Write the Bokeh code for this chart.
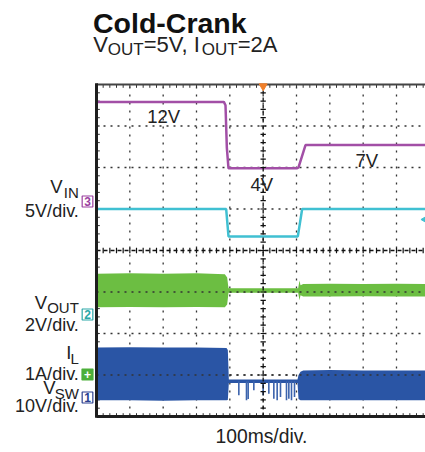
import numpy as np
from bokeh.plotting import figure
from bokeh.models import Range1d, Label
from bokeh.core.properties import value
from bokeh.embed import file_html
from bokeh.resources import INLINE

# ---------------- data (time in ms, 100 ms/div; traces in screen divisions) ----------------
vin_t = [0, 382, 387, 391, 396, 602, 606, 627, 987]
vin_v = [12.0, 12.0, 11.6, 6.5, 4.0, 4.0, 4.1, 6.8, 6.8]          # volts, 5 V/div

ch4_t = [0, 389, 396, 604, 617, 987]
ch4_div = [1.0, 1.0, 0.34, 0.34, 1.0, 1.0]

vout_t = [0, 100, 200, 300, 385, 392, 396, 500, 605, 609, 612, 620, 700, 800, 900, 987]
vout_hi = [-0.56, -0.55, -0.56, -0.55, -0.57, -0.65, -0.91, -0.91, -0.91, -0.72, -0.84, -0.81, -0.80, -0.81, -0.80, -0.81]
vout_lo = [-1.37, -1.36, -1.37, -1.36, -1.37, -1.30, -1.02, -1.02, -1.02, -1.20, -1.08, -1.11, -1.11, -1.10, -1.11, -1.11]

sw_t = [0, 100, 200, 300, 390, 394, 397, 600, 603, 606, 612, 620, 700, 800, 900, 987]
sw_hi = [-2.34, -2.33, -2.34, -2.34, -2.35, -2.40, -3.11, -3.11, -3.11, -3.00, -2.92, -2.89, -2.88, -2.89, -2.89, -2.89]
sw_lo = [-3.61, -3.61, -3.62, -3.61, -3.61, -3.60, -3.19, -3.19, -3.19, -3.58, -3.61, -3.61, -3.61, -3.61, -3.61, -3.61]

spike_t = [427, 450, 455, 472, 500, 517, 532, 542, 552, 570, 577, 585, 594]
spike_lo = [-3.49, -3.61, -3.58, -3.37, -3.49, -3.45, -3.57, -3.61, -3.53, -3.61, -3.57, -3.61, -3.53]

notes = ["12V", "4V", "7V"]

# ---------------- layout helpers (canvas pixel -> data coords) ----------------
def tx(px):
    return (px - 96) * 3.0

def ty(py):
    return (250 - py) / 41.5

BASE_FIX = 0.33   # baseline correction (em) for rendered text
VIN_OFF = ty(201)
FONT = "Liberation Sans"
INK = "#222222"

W, H = 425, 452
p = figure(width=W, height=H, x_range=Range1d(tx(0), tx(W)), y_range=Range1d(ty(H), ty(0)),
           x_axis_type=None, y_axis_type=None, output_backend="svg", toolbar_location=None,
           min_border=0)
p.outline_line_color = None
p.grid.visible = False
p.background_fill_color = "white"
p.border_fill_color = "white"

T0, T1 = 0, tx(W) + 30
# ---- graticule ----
gx = list(range(100, 1000, 100))
gy = [-3, -2, -1, 1, 2, 3]
p.segment(x0=gx, y0=[-4] * len(gx), x1=gx, y1=[4] * len(gx), line_color="#333333",
          line_width=1.3, line_dash="2 6")
p.segment(x0=[T0] * len(gy), y0=gy, x1=[T1] * len(gy), y1=gy, line_color="#333333",
          line_width=1.3, line_dash="2 5")

# border ticks (inward)
mx = np.arange(0, 1000, 20)
my = np.arange(-4, 4.01, 0.2)
p.segment(x0=mx, y0=[4] * len(mx), x1=mx, y1=[4 - 0.08] * len(mx), line_color="#333333", line_width=1)
p.segment(x0=mx, y0=[-4] * len(mx), x1=mx, y1=[-4 + 0.08] * len(mx), line_color="#333333", line_width=1)
p.segment(x0=[0] * len(my), y0=my, x1=[10] * len(my), y1=my, line_color="#333333", line_width=1)

# ---- traces ----
vin_div = [VIN_OFF + v / 5.0 for v in vin_v]
p.varea(x=vout_t, y1=vout_lo, y2=vout_hi, fill_color="#6cbe42")
p.varea(x=sw_t, y1=sw_lo, y2=sw_hi, fill_color="#2a55a5")
p.segment(x0=spike_t, y0=[-3.15] * len(spike_t), x1=spike_t, y1=spike_lo,
          line_color="#3b63ad", line_width=1.6)
p.line(vin_t, vin_div, line_color="#a24fa6", line_width=2.5)
p.line(ch4_t, ch4_div, line_color="#40c0d2", line_width=2.5)

# grid dots over the bands
p.segment(x0=[T0] * 2, y0=[-1, -3], x1=[T1] * 2, y1=[-1, -3], line_color="#333333",
          line_width=1.3, line_dash="2 5")

# centre cross with minor ticks
p.segment(x0=[500], y0=[-4], x1=[500], y1=[4], line_color="#111111", line_width=1.3, line_dash="4 3")
p.segment(x0=[T0], y0=[0], x1=[T1], y1=[0], line_color="#111111", line_width=1.3, line_dash="4 3")
p.segment(x0=[492] * len(my), y0=my, x1=[508] * len(my), y1=my, line_color="#111111", line_width=1.2)
p.segment(x0=mx, y0=[-0.065] * len(mx), x1=mx, y1=[0.065] * len(mx), line_color="#111111", line_width=1.2)

# frame borders
p.segment(x0=[T0], y0=[4], x1=[T1], y1=[4], line_color="#444444", line_width=2)
p.segment(x0=[T0], y0=[-4], x1=[T1], y1=[-4], line_color="#1e1e1e", line_width=3)
p.segment(x0=[0], y0=[-4.03], x1=[0], y1=[4.03], line_color="#1e1e1e", line_width=3)

# trigger marker and ch4 level marker
p.scatter([500], [3.96], marker="inverted_triangle", size=8, fill_color="#f07f2a", line_color="#f07f2a")
p.scatter([982], [ty(219)], marker="triangle", angle=np.pi / 2, size=5, fill_color="#40c0d2", line_color="#40c0d2")

# level notes on traces
NOTE_SZ = 18.5
p.text(x=[tx(146.7), tx(250), tx(355)],
       y=[ty(121.7 - BASE_FIX * NOTE_SZ), ty(190 - BASE_FIX * NOTE_SZ), ty(166 - BASE_FIX * NOTE_SZ)],
       text=notes, text_font=value(FONT), text_font_size=f"{NOTE_SZ}px", text_color=INK,
       text_align="left", text_baseline="alphabetic")

def lab(text, x, y, size, align="left", bold=False, color=INK):
    p.add_layout(Label(x=tx(x), y=ty(y - BASE_FIX * size), text=text, text_font=FONT,
                       text_font_size=f"{size}px", text_align=align, text_baseline="alphabetic",
                       text_color=color, text_font_style="bold" if bold else "normal"))

# title and subtitle
lab("Cold-Crank", 92.5, 31.7, 28.5, bold=True, color="#111111")
sx = 92.7
widths = {"V": 0.667, "OUT": 2.111, "=5V, I": 2.641, "=2A": 1.807}
for txt, sz, dy in [("V", 22, 0), ("OUT", 17, 4), ("=5V, I", 22, 0), ("OUT", 17, 4), ("=2A", 22, 0)]:
    lab(txt, sx, 51 + dy, sz)
    sx += widths[txt] * sz

# left channel labels
SUB = 15
lab("V", 62, 191.7, 18.5, align="right")
lab("IN", 78.3, 196.7, SUB, align="right")
lab("5V/div.", 78.3, 216.7, 18, align="right")
lab("V", 46.5, 308.3, 18.5, align="right")
lab("OUT", 78.3, 311.7, SUB, align="right")
lab("2V/div.", 78.3, 330, 18, align="right")
lab("I", 71, 358.3, 18.5, align="right")
lab("L", 78.3, 363.3, SUB, align="right")
lab("1A/div.", 78.3, 379.3, 18, align="right")
lab("V", 55, 393.3, 18.5, align="right")
lab("SW", 78.3, 398.3, SUB, align="right")
lab("10V/div.", 78.3, 411.7, 18, align="right")

# bottom time-base label
lab("100ms/div.", 215, 442, 19.3)

# channel ground markers
def marker(text, y, color, filled=False):
    p.add_layout(Label(x=tx(87), y=ty(y), text=text, text_font=FONT, text_font_size="12px",
                       text_font_style="bold", text_align="center", text_baseline="middle",
                       text_color="white" if filled else color,
                       background_fill_color=color if filled else "white",
                       border_line_color=color, border_line_width=1.2, padding=(2, 1)))

marker("3", 201, "#9a3fa0")
marker("2", 314, "#2aa7a7")
marker("+", 374, "#4caf3a", filled=True)
marker("1", 397, "#2a3f8f")

open("out.html", "w").write(file_html(p, INLINE))
